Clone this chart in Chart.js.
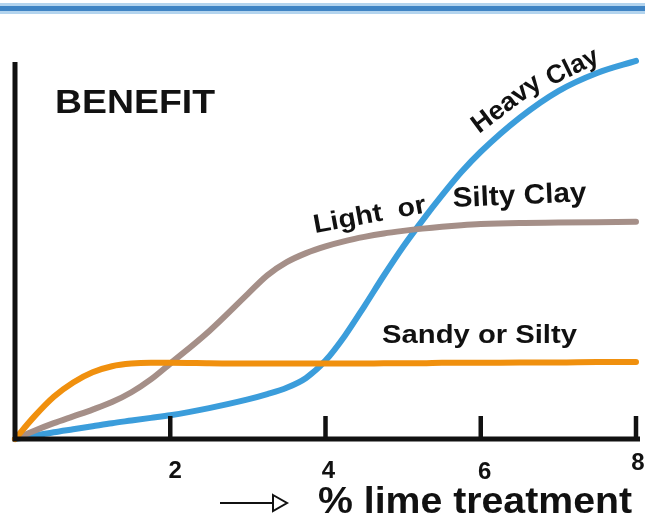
<!DOCTYPE html>
<html>
<head>
<meta charset="utf-8">
<script src="https://cdn.jsdelivr.net/npm/chart.js@4"></script>
<style>
  html, body { margin: 0; padding: 0; background: #ffffff; }
  #wrap { width: 645px; height: 517px; position: relative; }
</style>
</head>
<body>
<div id="wrap"><canvas id="limeChart" width="645" height="517"></canvas></div>
<script>
// % lime treatment vs benefit
const limePct = [0, 0.25, 0.5, 0.75, 1, 1.25, 1.5, 1.75, 2, 2.5, 3, 3.25, 3.5, 3.75, 4, 4.25, 4.5, 4.75, 5, 5.25, 5.5, 5.75, 6, 6.5, 7, 7.5, 8];
const sandyOrSilty = [0, 6, 11.2, 15, 17.7, 19.3, 20, 20.2, 20.2, 20.1, 20, 20, 20, 20, 20, 20, 20, 20.1, 20.1, 20.1, 20.2, 20.2, 20.2, 20.3, 20.3, 20.4, 20.4];
const lightOrSiltyClay = [0, 2.2, 4.2, 6, 7.8, 9.8, 12.4, 15.8, 20, 28.6, 38.5, 43.4, 46.9, 49.3, 51.1, 52.5, 53.6, 54.5, 55.2, 55.8, 56.3, 56.7, 57, 57.3, 57.4, 57.5, 57.6];
const heavyClay = [0, 0.9, 1.8, 2.6, 3.4, 4.2, 4.9, 5.6, 6.3, 8.2, 10.5, 11.9, 13.6, 16.2, 20.8, 27.4, 35.2, 43.3, 51, 58, 64.6, 70.8, 76.2, 85.2, 92.3, 97.1, 100.3];
const xTicks = [2, 4, 6, 8];
const tickLabels = ['2', '4', '6', '8'];

const FONT = '"Liberation Sans", Arial, Helvetica, sans-serif';

function toPoints(ys) {
    return limePct.map((x, i) => ({ x: x, y: ys[i] }));
}

// bold text stretched to a given width, optionally rotated around its start
function fitText(ctx, txt, x, y, size, width, deg) {
    ctx.save();
    ctx.font = 'bold ' + size + 'px ' + FONT;
    ctx.textAlign = 'left';
    ctx.textBaseline = 'alphabetic';
    const w = ctx.measureText(txt).width;
    ctx.translate(x, y);
    ctx.rotate((deg || 0) * Math.PI / 180);
    ctx.scale(width / w, 1);
    ctx.fillText(txt, 0, 0);
    ctx.restore();
}

// axes, ticks and hand-placed labels
const decorations = {
    id: 'decorations',
    beforeDraw(chart) {
        const ctx = chart.ctx;
        ctx.save();
        ctx.fillStyle = '#ffffff';
        ctx.fillRect(0, 0, chart.width, chart.height);
        // blue rule at the top
        ctx.fillStyle = '#b3d4ee';
        ctx.fillRect(0, 3, chart.width, 11);
        ctx.fillStyle = '#3f84c4';
        ctx.fillRect(0, 6, chart.width, 5);
        ctx.restore();
    },
    afterDatasetsDraw(chart) {
        const ctx = chart.ctx;
        const xs = chart.scales.x, ys = chart.scales.y;
        const x0 = xs.getPixelForValue(0);
        const y0 = ys.getPixelForValue(0);
        ctx.save();
        ctx.strokeStyle = '#111111';
        ctx.fillStyle = '#111111';
        ctx.lineWidth = 5;
        ctx.lineCap = 'butt';
        ctx.beginPath();
        ctx.moveTo(x0, chart.chartArea.top);
        ctx.lineTo(x0, y0 + 2.5);
        ctx.moveTo(x0 - 2.5, y0);
        ctx.lineTo(xs.getPixelForValue(8) + 4, y0);
        ctx.stroke();
        // tick marks pointing up into the plot
        ctx.lineWidth = 4.5;
        xTicks.forEach(v => {
            const px = xs.getPixelForValue(v);
            ctx.beginPath();
            ctx.moveTo(px, y0);
            ctx.lineTo(px, y0 - 23);
            ctx.stroke();
        });
        // tick labels
        ctx.font = 'bold 24px ' + FONT;
        ctx.textAlign = 'center';
        ctx.textBaseline = 'middle';
        const tickDx = [5, 3, 4, 2];
        const tickDy = [32, 32, 33, 24];
        xTicks.forEach((v, i) => {
            ctx.fillText(tickLabels[i], xs.getPixelForValue(v) + tickDx[i], y0 + tickDy[i]);
        });
        // axis title with arrow
        fitText(ctx, '% lime treatment', 318, 513, 37, 314, 0);
        ctx.lineWidth = 2;
        ctx.beginPath();
        ctx.moveTo(220, 503);
        ctx.lineTo(273, 503);
        ctx.stroke();
        ctx.beginPath();
        ctx.moveTo(273, 495);
        ctx.lineTo(287, 503);
        ctx.lineTo(273, 511);
        ctx.closePath();
        ctx.stroke();
        // y label
        fitText(ctx, 'BENEFIT', 55, 113, 34, 160, 0);
        // curve labels
        fitText(ctx, 'Sandy or Silty', 382, 343, 25, 195, 0);
        fitText(ctx, 'Light  or', 315, 233, 26, 114, -10.5);
        fitText(ctx, 'Silty Clay', 453, 207, 28, 134, -2.5);
        fitText(ctx, 'Heavy', 479, 134, 26, 80, -37);
        fitText(ctx, 'Clay', 551, 86, 26, 55, -26);
        ctx.restore();
    }
};

const ctx = document.getElementById('limeChart').getContext('2d');
new Chart(ctx, {
    type: 'line',
    data: {
        datasets: [
            {
                label: 'Sandy or Silty',
                data: toPoints(sandyOrSilty),
                borderColor: '#f0900e',
                borderWidth: 6
            },
            {
                label: 'Light or Silty Clay',
                data: toPoints(lightOrSiltyClay),
                borderColor: '#a58f88',
                borderWidth: 6
            },
            {
                label: 'Heavy Clay',
                data: toPoints(heavyClay),
                borderColor: '#3b9ddb',
                borderWidth: 6
            }
        ]
    },
    options: {
        responsive: false,
        animation: false,
        devicePixelRatio: 1,
        layout: { padding: { left: 15, right: 9, top: 62, bottom: 78 } },
        elements: {
            point: { radius: 0 },
            line: { cubicInterpolationMode: 'monotone', fill: false, borderCapStyle: 'round' }
        },
        datasets: { line: { clip: false } },
        plugins: {
            legend: { display: false },
            tooltip: { enabled: false }
        },
        scales: {
            x: { type: 'linear', min: 0, max: 8, display: false },
            y: { min: 0, max: 100, display: false }
        }
    },
    plugins: [decorations]
});
</script>
</body>
</html>
